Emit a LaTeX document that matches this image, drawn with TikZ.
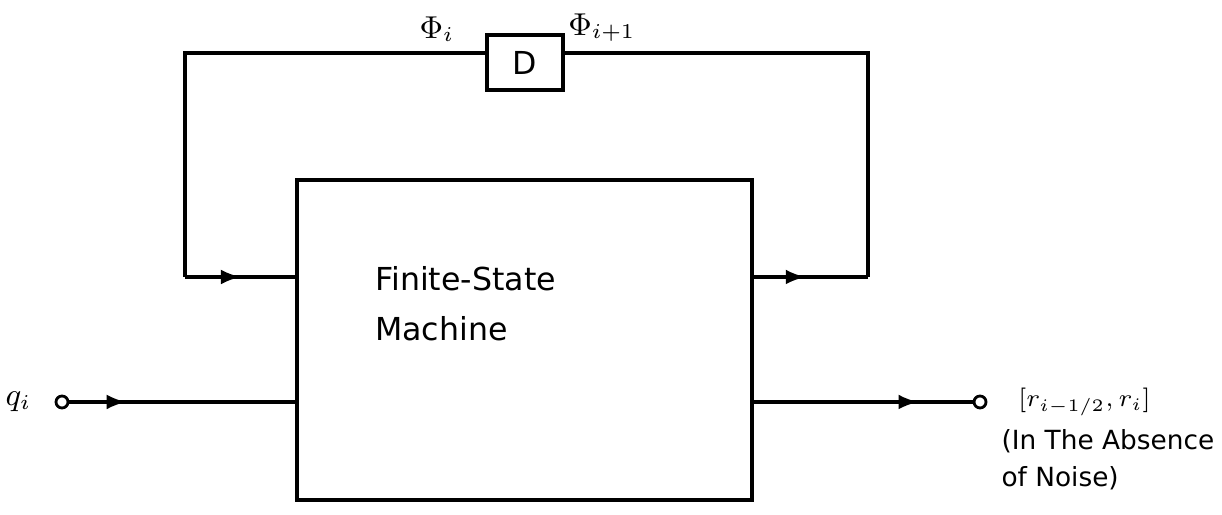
\documentclass[tikz,border=0pt]{standalone}
\usepackage{fontspec}
\setmainfont{DejaVu Sans}
\usetikzlibrary{decorations.markings}

\tikzset{
  midarrow/.style={postaction={decorate},
    decoration={markings, mark=at position #1 with {\arrow{latex}}}},
  blockbox/.style={draw, line width=0.9pt},
  port/.style={circle, draw, line width=0.8pt, inner sep=0pt, minimum size=0.12cm},
  smalltext/.style={font=\fontsize{7.5}{9}\selectfont}
}

\begin{document}
\begin{tikzpicture}[line width=0.9pt, font=\fontsize{9}{11}\selectfont]
    \useasboundingbox (0,0) rectangle (12.22,5.15);

    % blocks
    \node[blockbox, minimum width=4.55cm, minimum height=3.2cm] (fsm) at (5.245,1.75) {};
    \node[align=left, anchor=north west] (fsmtxt) at (3.62,2.62) {Finite-State\\[0.12cm]Machine};
    \node[blockbox, minimum width=0.76cm, minimum height=0.55cm] (dly) at (5.25,4.525) {D};

    % feedback loop
    \coordinate (ltop) at (1.85,4.62);
    \coordinate (lbot) at (1.85,2.38);
    \coordinate (rtop) at (8.68,4.62);
    \coordinate (rbot) at (8.68,2.38);
    \coordinate (fbin) at (fsm.west |- lbot);
    \coordinate (fbout) at (fsm.east |- rbot);
    \coordinate (dlyin) at (dly.east |- rtop);
    \coordinate (dlyout) at (dly.west |- ltop);

    \draw (dlyin) -- (rtop) -- (rbot);
    \draw[midarrow=0.45] (fbout) -- (rbot);
    \draw (dlyout) -- (ltop) -- (lbot);
    \draw[midarrow=0.5] (lbot) -- (fbin);

    \node[above] (phii) at (4.37,4.6) {$\Phi_i$};
    \node[above] (phin) at (6.02,4.6) {$\Phi_{i+1}$};

    % input and output
    \node[port] (qin) at (0.62,1.13) {};
    \node[left=0.1cm] (qlbl) at (qin.west) {$q_i$};
    \coordinate (fsmin) at (fsm.west |- qin);
    \draw[midarrow=0.25] (qin) -- (fsmin);

    \node[port] (rout) at (9.80,1.13) {};
    \coordinate (fsmout) at (fsm.east |- rout);
    \draw[midarrow=0.75] (fsmout) -- (rout);
    \node[anchor=west, smalltext] (rlbl) at (10.05,1.13) {$[r_{i-1/2}, r_i]$};
    \node[anchor=north west, align=left, inner sep=0pt, smalltext] (note) at (10.0,0.87)
        {(In The Absence\\[0.05cm]of Noise)};
\end{tikzpicture}
\end{document}
